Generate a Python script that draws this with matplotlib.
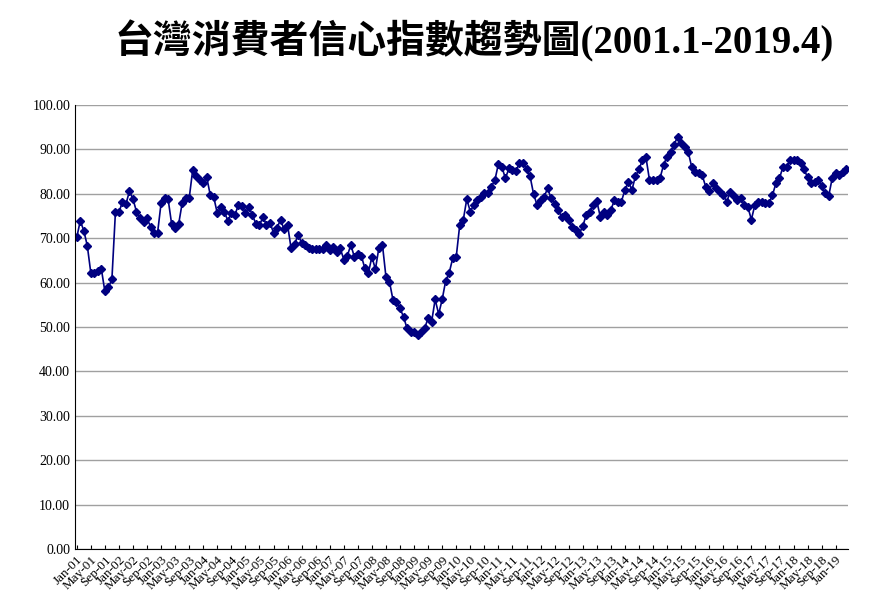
import matplotlib
matplotlib.use('Agg')
from matplotlib import pyplot as plt

# monthly index, Jan 2001 .. Apr 2019
cci = [70.2, 73.9, 71.7, 68.3, 62.2, 62.2, 62.7, 63.1, 58.0, 58.9, 60.7, 75.8,
       75.8, 78.2, 77.7, 80.6, 78.8, 76.0, 74.5, 73.7, 74.5, 72.6, 71.2, 71.2,
       77.9, 79.0, 78.8, 73.2, 72.2, 73.2, 77.9, 79.0, 79.0, 85.4, 83.9, 83.1,
       82.4, 83.7, 79.7, 79.2, 75.6, 77.0, 76.0, 73.9, 75.7, 75.2, 77.5, 77.3,
       75.7, 77.0, 75.2, 73.2, 73.0, 74.7, 73.0, 73.5, 71.2, 72.4, 74.1, 72.0,
       73.0, 67.7, 68.7, 70.7, 69.0, 68.5, 67.9, 67.6, 67.5, 67.5, 67.5, 68.5,
       67.3, 68.1, 67.0, 67.7, 65.2, 66.0, 68.5, 65.8, 66.4, 66.0, 63.2, 62.2,
       65.8, 63.0, 67.9, 68.5, 61.3, 60.2, 56.1, 55.7, 54.2, 52.3, 49.7, 48.9,
       48.9, 48.2, 48.9, 49.7, 52.0, 51.2, 56.2, 52.9, 56.2, 60.4, 62.2, 65.5,
       65.8, 73.0, 74.1, 78.8, 76.0, 77.5, 78.6, 79.3, 80.1, 80.1, 81.6, 83.1,
       86.7, 86.0, 83.5, 85.7, 85.4, 85.2, 86.9, 86.9, 85.6, 84.0, 80.0, 77.5,
       78.6, 79.3, 81.2, 79.0, 77.7, 76.4, 74.8, 75.2, 74.1, 72.6, 71.8, 70.9,
       72.7, 75.2, 76.0, 77.5, 78.4, 74.8, 76.0, 75.2, 76.4, 78.5, 78.2, 78.2,
       80.9, 82.7, 80.9, 83.9, 85.5, 87.6, 88.2, 83.1, 83.1, 83.1, 83.5, 86.5,
       88.4, 89.5, 91.0, 92.9, 91.4, 90.5, 89.5, 86.1, 85.0, 84.6, 84.2, 81.6,
       80.7, 82.4, 81.2, 80.5, 79.7, 78.2, 80.5, 79.5, 78.6, 79.0, 77.5, 77.0,
       74.2, 77.5, 78.2, 78.2, 78.0, 77.9, 79.7, 82.4, 83.5, 86.1, 86.0, 87.6,
       87.6, 87.6, 86.9, 85.5, 83.7, 82.4, 82.7, 83.2, 81.8, 80.1, 79.5, 83.5,
       84.6, 84.2, 84.8, 85.5]

months = ['Jan', 'May', 'Sep']
tick_pos = list(range(0, len(cci), 4))
tick_lab = ['%s-%02d' % (months[(p // 4) % 3], 1 + p // 12) for p in tick_pos]

serif = ['Liberation Serif', 'Noto Sans CJK TC']

fig = plt.figure(figsize=(8.74, 6.02), dpi=100)
ax = fig.add_axes([75/874, 1 - 549/602, 773/874, 444/602])
ax.plot(range(len(cci)), cci, color='#000080', marker='D', markersize=4.5, linewidth=1.2)

ax.set_ylim(0, 100)
ax.set_xlim(-0.5, len(cci) - 0.5)
ax.set_yticks(range(0, 101, 10))
ax.set_yticklabels(['%.2f' % v for v in range(0, 101, 10)], family=serif, fontsize=10)
ax.set_xticks(tick_pos)
ax.set_xticklabels(tick_lab, rotation=45, ha='right', family=serif, fontsize=9.5,
                   rotation_mode='anchor')
ax.grid(axis='y', color='#a0a0a0', linewidth=1)
ax.set_axisbelow(True)
for s in ['top', 'right']:
    ax.spines[s].set_visible(False)
ax.tick_params(axis='x', length=3, direction='in')
ax.tick_params(axis='y', length=0)

fig.text(0.543, 0.932, '台灣消費者信心指數趨勢圖(2001.1-2019.4)', ha='center', va='center',
         family=serif, fontsize=28, fontweight='bold')

fig.savefig('out.png', dpi=100)
